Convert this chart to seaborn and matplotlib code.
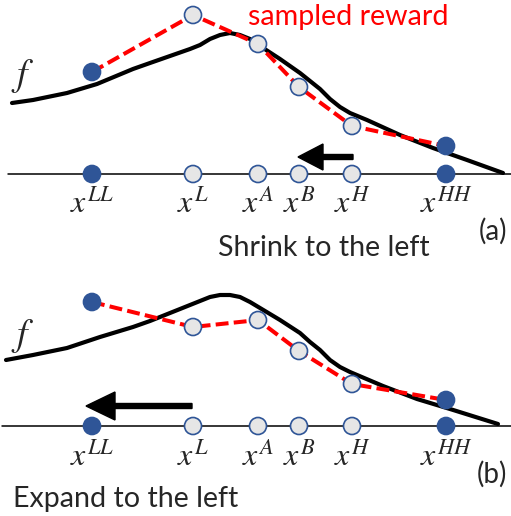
import numpy as np
import pandas as pd
import matplotlib.pyplot as plt
import seaborn as sns
from matplotlib.patches import FancyArrow

# sample points on the x axis (pixel columns)
names = ['LL', 'L', 'A', 'B', 'H', 'HH']
xpos = [92, 193, 258, 299, 352, 446]
kind = ['end', 'mid', 'mid', 'mid', 'mid', 'end']

# sampled reward above the axis line, panel (a) and (b)
reward_a = [102, 159, 130, 87, 48, 28]
reward_b = [124, 99, 106, 75, 42, 26]

# true function f
curve_x_a = [12, 33, 67, 97, 133, 150, 170, 190, 200, 210, 220, 230, 240, 250, 260, 280,
             300, 310, 320, 330, 340, 350, 367, 400, 433, 467, 503]
curve_y_a = [71, 74, 81, 90, 105, 111, 118, 125, 129, 135, 139, 141, 139, 135, 128, 115,
             101, 93, 85, 75, 67, 61, 54, 39, 26, 14, 1]
curve_x_b = [6, 33, 67, 100, 133, 150, 170, 190, 200, 210, 220, 230, 240, 250, 260, 280,
             300, 310, 320, 330, 340, 350, 383, 417, 450, 498]
curve_y_b = [66, 71, 78, 89, 99, 105, 113, 121, 125, 129, 131, 131, 129, 124, 118, 106,
             93, 84, 76, 66, 59, 54, 40, 27, 17, 2]

W, H = 511, 516
dark = '#2f5597'
light = '#e6e6e6'

sns.set_theme(style='white')
plt.rcParams['font.family'] = ['Lato', 'DejaVu Sans']
plt.rcParams['mathtext.fontset'] = 'stix'

fig = plt.figure(figsize=(W / 100, H / 100), dpi=100)
ax_a = fig.add_axes([0, 0.5, 1, 0.5])
ax_b = fig.add_axes([0, 0, 1, 0.5])


def draw_panel(ax, reward, cx, cy, ylim, line_start, lab_off, arrow):
    ax.set_xlim(0, W)
    ax.set_ylim(*ylim)
    ax.axis('off')
    ax.axhline(0, xmin=line_start / W, xmax=1, color='black', lw=1.1, zorder=1)

    curve = pd.DataFrame({'x': cx, 'y': cy})
    sns.lineplot(data=curve, x='x', y='y', sort=False, color='black', lw=3, ax=ax, zorder=2)

    df = pd.DataFrame({'x': xpos, 'reward': reward, 'kind': kind, 'zero': 0})
    sns.lineplot(data=df, x='x', y='reward', sort=False, color='red', lw=2.9,
                 linestyle=(0, (3.2, 1.3)), ax=ax, zorder=3)
    pal = {'end': dark, 'mid': light}
    sns.scatterplot(data=df, x='x', y='reward', hue='kind', palette=pal, s=150,
                    edgecolor=dark, linewidth=1.2, legend=False, ax=ax, zorder=5)
    sns.scatterplot(data=df, x='x', y='zero', hue='kind', palette=pal, s=150,
                    edgecolor=dark, linewidth=1.2, legend=False, ax=ax, zorder=5)

    for n, x in zip(names, xpos):
        ax.text(x, -lab_off, f'$x^{{{n}}}$', ha='center', va='top', fontsize=23)

    tail, tip, ay, hw, hl = arrow
    ax.add_patch(FancyArrow(tail, ay, tip - tail, 0, width=5, head_width=hw, head_length=hl,
                            length_includes_head=True, color='black', zorder=4))
    ax.set_xlabel('')
    ax.set_ylabel('')


draw_panel(ax_a, reward_a, curve_x_a, curve_y_a, (-84, 174), 8, 14, (353, 298, 17, 26, 25))
draw_panel(ax_b, reward_b, curve_x_b, curve_y_b, (-90, 168), 2, 15, (192, 86, 20, 28, 29))


def ftext(x, y, s, **kw):
    fig.text(x / W, 1 - y / H, s, **kw)


ftext(248, 25, 'sampled reward', color='red', fontsize=20.6, ha='left', va='baseline')
ftext(23, 76, '$f$', fontsize=27, ha='center', va='center')
ftext(23, 336, '$f$', fontsize=27, ha='center', va='center')
ftext(507, 231, '(a)', fontsize=20, ha='right', va='center')
ftext(324, 256, 'Shrink to the left', fontsize=20.6, ha='center', va='baseline')
ftext(507, 474, '(b)', fontsize=20, ha='right', va='center')
ftext(13, 507, 'Expand to the left', fontsize=20.6, ha='left', va='baseline')

fig.savefig('out.png', dpi=100)
